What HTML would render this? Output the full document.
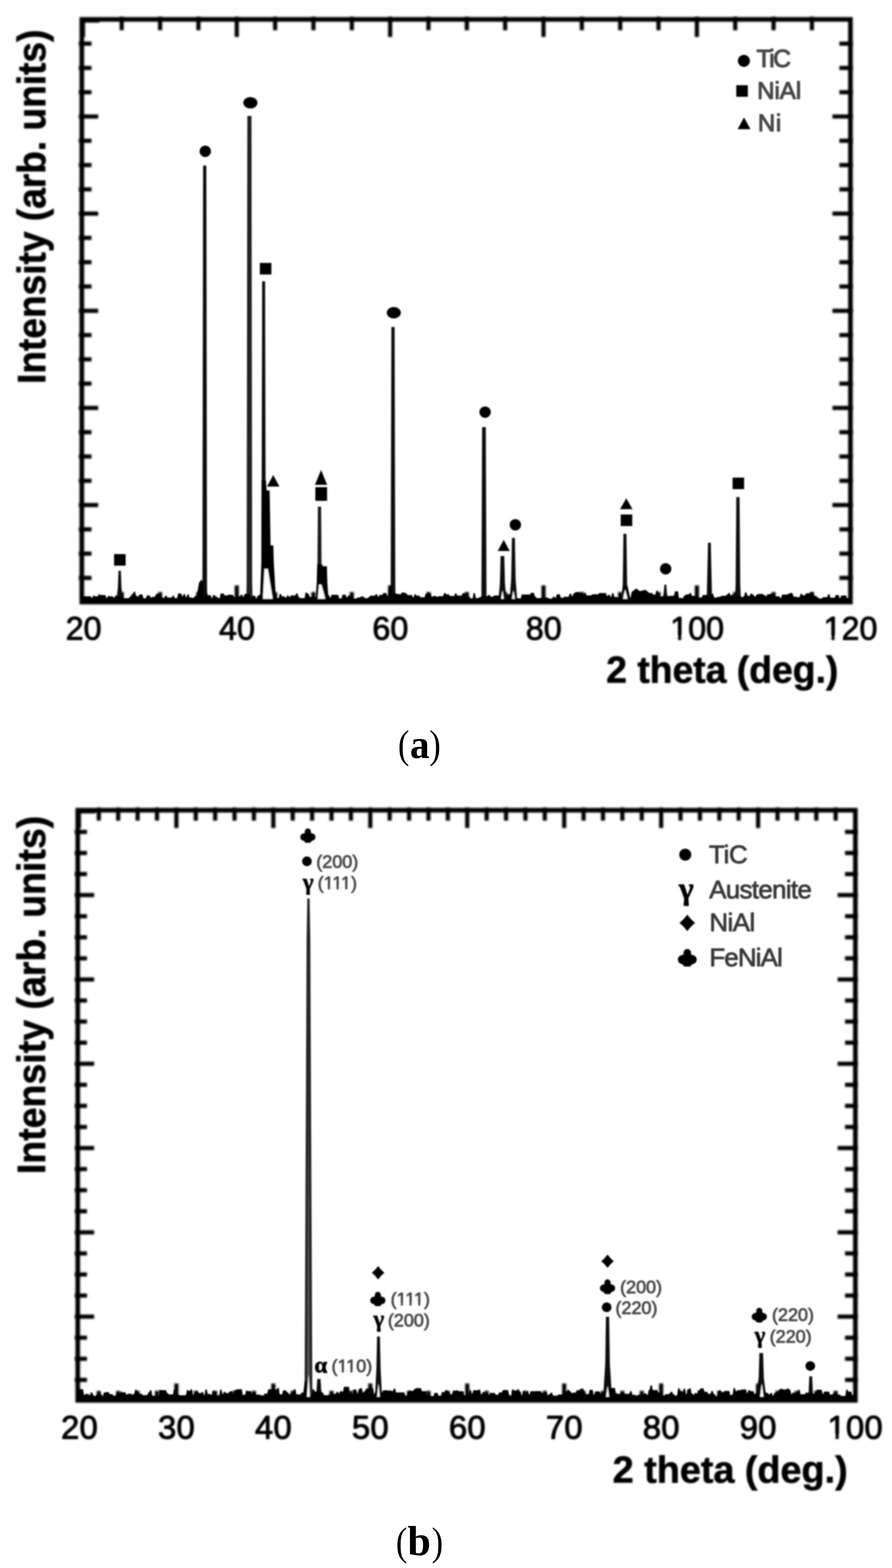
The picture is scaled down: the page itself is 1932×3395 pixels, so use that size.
<!DOCTYPE html>
<html lang="en"><head><meta charset="utf-8">
<style>html,body{margin:0;padding:0;background:#fff}body{width:1932px;height:3395px;overflow:hidden}svg{display:block}</style>
</head><body>
<svg width="1932" height="3395" viewBox="0 0 1932 3395">
<defs><filter id="bl" x="-2%" y="-2%" width="104%" height="104%"><feGaussianBlur stdDeviation="1.7"/></filter><filter id="bx" x="-2%" y="-2%" width="104%" height="104%"><feGaussianBlur stdDeviation="2.1"/></filter><filter id="b2" x="-20%" y="-30%" width="140%" height="160%"><feGaussianBlur stdDeviation="1.1"/></filter></defs>
<rect width="1932" height="3395" fill="#fff"/>
<g filter="url(#bx)">
<rect x="177.2" y="42.0" width="1664.8" height="1261.5" fill="none" stroke="#000" stroke-width="10.0"/>
<line x1="177.2" y1="43.5" x2="215.2" y2="43.5" stroke="#000" stroke-width="11.0" stroke-linecap="butt"/>
<line x1="178.7" y1="42.0" x2="178.7" y2="80.0" stroke="#000" stroke-width="11.0" stroke-linecap="butt"/>
<line x1="263.6" y1="36.0" x2="263.6" y2="65.5" stroke="#000" stroke-width="9.0" stroke-linecap="butt"/>
<line x1="263.6" y1="1303.5" x2="263.6" y2="1282.0" stroke="#000" stroke-width="9.0" stroke-linecap="butt"/>
<line x1="346.7" y1="36.0" x2="346.7" y2="65.5" stroke="#000" stroke-width="9.0" stroke-linecap="butt"/>
<line x1="346.7" y1="1303.5" x2="346.7" y2="1282.0" stroke="#000" stroke-width="9.0" stroke-linecap="butt"/>
<line x1="429.8" y1="36.0" x2="429.8" y2="65.5" stroke="#000" stroke-width="9.0" stroke-linecap="butt"/>
<line x1="429.8" y1="1303.5" x2="429.8" y2="1282.0" stroke="#000" stroke-width="9.0" stroke-linecap="butt"/>
<line x1="512.8" y1="36.0" x2="512.8" y2="80.0" stroke="#000" stroke-width="9.0" stroke-linecap="butt"/>
<line x1="512.8" y1="1303.5" x2="512.8" y2="1267.5" stroke="#000" stroke-width="9.0" stroke-linecap="butt"/>
<line x1="595.9" y1="36.0" x2="595.9" y2="65.5" stroke="#000" stroke-width="9.0" stroke-linecap="butt"/>
<line x1="595.9" y1="1303.5" x2="595.9" y2="1282.0" stroke="#000" stroke-width="9.0" stroke-linecap="butt"/>
<line x1="678.9" y1="36.0" x2="678.9" y2="65.5" stroke="#000" stroke-width="9.0" stroke-linecap="butt"/>
<line x1="678.9" y1="1303.5" x2="678.9" y2="1282.0" stroke="#000" stroke-width="9.0" stroke-linecap="butt"/>
<line x1="762.0" y1="36.0" x2="762.0" y2="65.5" stroke="#000" stroke-width="9.0" stroke-linecap="butt"/>
<line x1="762.0" y1="1303.5" x2="762.0" y2="1282.0" stroke="#000" stroke-width="9.0" stroke-linecap="butt"/>
<line x1="845.0" y1="36.0" x2="845.0" y2="80.0" stroke="#000" stroke-width="9.0" stroke-linecap="butt"/>
<line x1="845.0" y1="1303.5" x2="845.0" y2="1267.5" stroke="#000" stroke-width="9.0" stroke-linecap="butt"/>
<line x1="928.0" y1="36.0" x2="928.0" y2="65.5" stroke="#000" stroke-width="9.0" stroke-linecap="butt"/>
<line x1="928.0" y1="1303.5" x2="928.0" y2="1282.0" stroke="#000" stroke-width="9.0" stroke-linecap="butt"/>
<line x1="1011.1" y1="36.0" x2="1011.1" y2="65.5" stroke="#000" stroke-width="9.0" stroke-linecap="butt"/>
<line x1="1011.1" y1="1303.5" x2="1011.1" y2="1282.0" stroke="#000" stroke-width="9.0" stroke-linecap="butt"/>
<line x1="1094.1" y1="36.0" x2="1094.1" y2="65.5" stroke="#000" stroke-width="9.0" stroke-linecap="butt"/>
<line x1="1094.1" y1="1303.5" x2="1094.1" y2="1282.0" stroke="#000" stroke-width="9.0" stroke-linecap="butt"/>
<line x1="1177.2" y1="36.0" x2="1177.2" y2="80.0" stroke="#000" stroke-width="9.0" stroke-linecap="butt"/>
<line x1="1177.2" y1="1303.5" x2="1177.2" y2="1267.5" stroke="#000" stroke-width="9.0" stroke-linecap="butt"/>
<line x1="1260.2" y1="36.0" x2="1260.2" y2="65.5" stroke="#000" stroke-width="9.0" stroke-linecap="butt"/>
<line x1="1260.2" y1="1303.5" x2="1260.2" y2="1282.0" stroke="#000" stroke-width="9.0" stroke-linecap="butt"/>
<line x1="1343.3" y1="36.0" x2="1343.3" y2="65.5" stroke="#000" stroke-width="9.0" stroke-linecap="butt"/>
<line x1="1343.3" y1="1303.5" x2="1343.3" y2="1282.0" stroke="#000" stroke-width="9.0" stroke-linecap="butt"/>
<line x1="1426.3" y1="36.0" x2="1426.3" y2="65.5" stroke="#000" stroke-width="9.0" stroke-linecap="butt"/>
<line x1="1426.3" y1="1303.5" x2="1426.3" y2="1282.0" stroke="#000" stroke-width="9.0" stroke-linecap="butt"/>
<line x1="1509.4" y1="36.0" x2="1509.4" y2="80.0" stroke="#000" stroke-width="9.0" stroke-linecap="butt"/>
<line x1="1509.4" y1="1303.5" x2="1509.4" y2="1267.5" stroke="#000" stroke-width="9.0" stroke-linecap="butt"/>
<line x1="1592.4" y1="36.0" x2="1592.4" y2="65.5" stroke="#000" stroke-width="9.0" stroke-linecap="butt"/>
<line x1="1592.4" y1="1303.5" x2="1592.4" y2="1282.0" stroke="#000" stroke-width="9.0" stroke-linecap="butt"/>
<line x1="1675.5" y1="36.0" x2="1675.5" y2="65.5" stroke="#000" stroke-width="9.0" stroke-linecap="butt"/>
<line x1="1675.5" y1="1303.5" x2="1675.5" y2="1282.0" stroke="#000" stroke-width="9.0" stroke-linecap="butt"/>
<line x1="1758.5" y1="36.0" x2="1758.5" y2="65.5" stroke="#000" stroke-width="9.0" stroke-linecap="butt"/>
<line x1="1758.5" y1="1303.5" x2="1758.5" y2="1282.0" stroke="#000" stroke-width="9.0" stroke-linecap="butt"/>
<line x1="170.7" y1="94.5" x2="198.2" y2="94.5" stroke="#000" stroke-width="9.0" stroke-linecap="butt"/>
<line x1="1847.5" y1="94.5" x2="1818.0" y2="94.5" stroke="#000" stroke-width="9.0" stroke-linecap="butt"/>
<line x1="170.7" y1="147.1" x2="198.2" y2="147.1" stroke="#000" stroke-width="9.0" stroke-linecap="butt"/>
<line x1="1847.5" y1="147.1" x2="1818.0" y2="147.1" stroke="#000" stroke-width="9.0" stroke-linecap="butt"/>
<line x1="170.7" y1="199.7" x2="198.2" y2="199.7" stroke="#000" stroke-width="9.0" stroke-linecap="butt"/>
<line x1="1847.5" y1="199.7" x2="1818.0" y2="199.7" stroke="#000" stroke-width="9.0" stroke-linecap="butt"/>
<line x1="170.7" y1="252.2" x2="212.7" y2="252.2" stroke="#000" stroke-width="9.0" stroke-linecap="butt"/>
<line x1="1847.5" y1="252.2" x2="1803.0" y2="252.2" stroke="#000" stroke-width="9.0" stroke-linecap="butt"/>
<line x1="170.7" y1="304.8" x2="198.2" y2="304.8" stroke="#000" stroke-width="9.0" stroke-linecap="butt"/>
<line x1="1847.5" y1="304.8" x2="1818.0" y2="304.8" stroke="#000" stroke-width="9.0" stroke-linecap="butt"/>
<line x1="170.7" y1="357.4" x2="198.2" y2="357.4" stroke="#000" stroke-width="9.0" stroke-linecap="butt"/>
<line x1="1847.5" y1="357.4" x2="1818.0" y2="357.4" stroke="#000" stroke-width="9.0" stroke-linecap="butt"/>
<line x1="170.7" y1="410.0" x2="198.2" y2="410.0" stroke="#000" stroke-width="9.0" stroke-linecap="butt"/>
<line x1="1847.5" y1="410.0" x2="1818.0" y2="410.0" stroke="#000" stroke-width="9.0" stroke-linecap="butt"/>
<line x1="170.7" y1="462.6" x2="212.7" y2="462.6" stroke="#000" stroke-width="9.0" stroke-linecap="butt"/>
<line x1="1847.5" y1="462.6" x2="1803.0" y2="462.6" stroke="#000" stroke-width="9.0" stroke-linecap="butt"/>
<line x1="170.7" y1="515.1" x2="198.2" y2="515.1" stroke="#000" stroke-width="9.0" stroke-linecap="butt"/>
<line x1="1847.5" y1="515.1" x2="1818.0" y2="515.1" stroke="#000" stroke-width="9.0" stroke-linecap="butt"/>
<line x1="170.7" y1="567.7" x2="198.2" y2="567.7" stroke="#000" stroke-width="9.0" stroke-linecap="butt"/>
<line x1="1847.5" y1="567.7" x2="1818.0" y2="567.7" stroke="#000" stroke-width="9.0" stroke-linecap="butt"/>
<line x1="170.7" y1="620.3" x2="198.2" y2="620.3" stroke="#000" stroke-width="9.0" stroke-linecap="butt"/>
<line x1="1847.5" y1="620.3" x2="1818.0" y2="620.3" stroke="#000" stroke-width="9.0" stroke-linecap="butt"/>
<line x1="170.7" y1="672.9" x2="212.7" y2="672.9" stroke="#000" stroke-width="9.0" stroke-linecap="butt"/>
<line x1="1847.5" y1="672.9" x2="1803.0" y2="672.9" stroke="#000" stroke-width="9.0" stroke-linecap="butt"/>
<line x1="170.7" y1="725.5" x2="198.2" y2="725.5" stroke="#000" stroke-width="9.0" stroke-linecap="butt"/>
<line x1="1847.5" y1="725.5" x2="1818.0" y2="725.5" stroke="#000" stroke-width="9.0" stroke-linecap="butt"/>
<line x1="170.7" y1="778.1" x2="198.2" y2="778.1" stroke="#000" stroke-width="9.0" stroke-linecap="butt"/>
<line x1="1847.5" y1="778.1" x2="1818.0" y2="778.1" stroke="#000" stroke-width="9.0" stroke-linecap="butt"/>
<line x1="170.7" y1="830.6" x2="198.2" y2="830.6" stroke="#000" stroke-width="9.0" stroke-linecap="butt"/>
<line x1="1847.5" y1="830.6" x2="1818.0" y2="830.6" stroke="#000" stroke-width="9.0" stroke-linecap="butt"/>
<line x1="170.7" y1="883.2" x2="212.7" y2="883.2" stroke="#000" stroke-width="9.0" stroke-linecap="butt"/>
<line x1="1847.5" y1="883.2" x2="1803.0" y2="883.2" stroke="#000" stroke-width="9.0" stroke-linecap="butt"/>
<line x1="170.7" y1="935.8" x2="198.2" y2="935.8" stroke="#000" stroke-width="9.0" stroke-linecap="butt"/>
<line x1="1847.5" y1="935.8" x2="1818.0" y2="935.8" stroke="#000" stroke-width="9.0" stroke-linecap="butt"/>
<line x1="170.7" y1="988.4" x2="198.2" y2="988.4" stroke="#000" stroke-width="9.0" stroke-linecap="butt"/>
<line x1="1847.5" y1="988.4" x2="1818.0" y2="988.4" stroke="#000" stroke-width="9.0" stroke-linecap="butt"/>
<line x1="170.7" y1="1041.0" x2="198.2" y2="1041.0" stroke="#000" stroke-width="9.0" stroke-linecap="butt"/>
<line x1="1847.5" y1="1041.0" x2="1818.0" y2="1041.0" stroke="#000" stroke-width="9.0" stroke-linecap="butt"/>
<line x1="170.7" y1="1093.6" x2="212.7" y2="1093.6" stroke="#000" stroke-width="9.0" stroke-linecap="butt"/>
<line x1="1847.5" y1="1093.6" x2="1803.0" y2="1093.6" stroke="#000" stroke-width="9.0" stroke-linecap="butt"/>
<line x1="170.7" y1="1146.2" x2="198.2" y2="1146.2" stroke="#000" stroke-width="9.0" stroke-linecap="butt"/>
<line x1="1847.5" y1="1146.2" x2="1818.0" y2="1146.2" stroke="#000" stroke-width="9.0" stroke-linecap="butt"/>
<line x1="170.7" y1="1198.7" x2="198.2" y2="1198.7" stroke="#000" stroke-width="9.0" stroke-linecap="butt"/>
<line x1="1847.5" y1="1198.7" x2="1818.0" y2="1198.7" stroke="#000" stroke-width="9.0" stroke-linecap="butt"/>
<line x1="170.7" y1="1251.3" x2="198.2" y2="1251.3" stroke="#000" stroke-width="9.0" stroke-linecap="butt"/>
<line x1="1847.5" y1="1251.3" x2="1818.0" y2="1251.3" stroke="#000" stroke-width="9.0" stroke-linecap="butt"/>
</g>
<g filter="url(#bl)">
<polygon points="256.7,1235.7 261.7,1235.7 263.2,1273.5 266.7,1303.5 251.7,1303.5 255.2,1273.5" fill="#111"/>
<polygon points="439.9,358.5 446.9,358.5 448.4,1273.5 449.4,1303.5 437.4,1303.5 438.4,1273.5" fill="#111"/>
<polygon points="424.0,1303.5 431.0,1262.0 436.0,1255.0 441.0,1262.0 441.0,1303.5" fill="#000"/>
<polygon points="535.7,251.0 544.7,251.0 546.2,1263.5 547.2,1303.5 533.2,1303.5 534.2,1263.5" fill="#222"/>
<polygon points="567.8,609.0 574.2,609.0 575.8,1293.5 575.8,1303.5 566.2,1303.5 566.2,1293.5" fill="#111"/>
<polygon points="566.5,1040.0 576.0,1040.0 577.5,1062.0 584.0,1062.0 586.0,1181.0 592.0,1181.0 593.0,1218.0 598.0,1303.5 563.0,1303.5 566.0,1218.0" fill="#000"/>
<polygon points="688.5,1097.0 695.5,1097.0 697.0,1293.5 698.0,1303.5 686.0,1303.5 687.0,1293.5" fill="#1c1c1c"/>
<polygon points="687.0,1222.0 698.0,1222.0 699.0,1226.0 708.0,1226.0 709.0,1262.0 712.0,1303.5 683.0,1303.5 686.0,1262.0" fill="#000"/>
<polygon points="847.7,708.0 854.7,708.0 856.2,1273.5 857.2,1303.5 845.2,1303.5 846.2,1273.5" fill="#111"/>
<polygon points="840.0,1303.5 845.0,1268.0 850.0,1268.0 850.0,1303.5" fill="#000"/>
<polygon points="1044.2,924.7 1052.2,924.7 1053.7,1283.5 1054.2,1303.5 1042.2,1303.5 1042.7,1283.5" fill="#111"/>
<polygon points="1084.2,1204.0 1092.2,1204.0 1093.7,1263.5 1097.2,1303.5 1079.2,1303.5 1082.7,1263.5" fill="#111"/>
<polygon points="1108.8,1164.8 1115.2,1164.8 1116.8,1253.5 1120.5,1303.5 1103.5,1303.5 1107.2,1253.5" fill="#111"/>
<polygon points="1350.3,1155.8 1356.8,1155.8 1358.3,1263.5 1359.1,1303.5 1348.1,1303.5 1348.8,1263.5" fill="#111"/>
<polygon points="1344.0,1303.5 1349.0,1268.0 1359.0,1268.0 1367.0,1303.5" fill="#000"/>
<polygon points="1364.0,1303.5 1368.0,1282.0 1378.0,1274.0 1386.0,1280.0 1398.0,1277.0 1410.0,1287.0 1424.0,1303.5" fill="#000"/>
<polygon points="1439.0,1265.8 1443.0,1265.8 1444.5,1283.5 1448.0,1303.5 1434.0,1303.5 1437.5,1283.5" fill="#111"/>
<polygon points="1533.5,1175.0 1539.5,1175.0 1541.0,1243.5 1542.5,1303.5 1530.5,1303.5 1532.0,1243.5" fill="#111"/>
<polygon points="1594.8,1076.2 1601.8,1076.2 1603.3,1263.5 1604.8,1303.5 1591.8,1303.5 1593.3,1263.5" fill="#111"/>
<path d="M177.2,1303.5 L178.2,1291.5 L188.2,1291.5 L190.2,1291.7 L196.2,1291.7 L198.2,1294.8 L200.2,1294.8 L202.2,1290.2 L204.2,1290.2 L206.2,1291.7 L212.2,1291.7 L214.2,1287.1 L216.2,1287.1 L218.2,1289.1 L220.2,1289.1 L222.2,1288.8 L224.2,1288.8 L226.2,1289.1 L228.2,1289.1 L230.2,1295.5 L232.2,1295.5 L234.2,1290.8 L236.2,1290.8 L238.2,1291.8 L244.2,1291.8 L246.2,1294.4 L248.2,1294.4 L250.2,1289.7 L252.2,1289.7 L254.2,1292.0 L264.2,1292.0 L266.2,1295.9 L276.2,1295.9 L278.2,1295.3 L280.2,1295.3 L282.2,1291.2 L284.2,1291.2 L286.2,1286.5 L288.2,1286.5 L290.2,1281.5 L292.2,1281.5 L294.2,1290.4 L296.2,1290.4 L298.2,1292.0 L300.2,1292.0 L302.2,1287.6 L304.2,1287.6 L306.2,1287.7 L308.2,1287.7 L310.2,1295.6 L312.2,1295.6 L314.2,1296.8 L316.2,1296.8 L318.2,1289.9 L324.2,1289.9 L326.2,1294.5 L328.2,1294.5 L330.2,1292.8 L332.2,1292.8 L334.2,1292.5 L336.2,1292.5 L338.2,1286.5 L344.2,1286.5 L346.2,1292.6 L348.2,1292.6 L350.2,1295.0 L356.2,1295.0 L358.2,1290.1 L360.2,1290.1 L362.2,1294.3 L372.2,1294.3 L374.2,1290.4 L376.2,1290.4 L378.2,1295.6 L384.2,1295.6 L386.2,1285.5 L392.2,1285.5 L394.2,1291.6 L396.2,1291.6 L398.2,1286.8 L400.2,1286.8 L402.2,1293.9 L404.2,1293.9 L406.2,1287.5 L408.2,1287.5 L410.2,1294.3 L416.2,1294.3 L418.2,1295.3 L420.2,1295.3 L422.2,1290.7 L424.2,1290.7 L426.2,1295.4 L428.2,1295.4 L430.2,1295.1 L432.2,1295.1 L434.2,1292.9 L436.2,1292.9 L438.2,1294.0 L444.2,1294.0 L446.2,1285.1 L448.2,1285.1 L450.2,1289.2 L456.2,1289.2 L458.2,1295.4 L460.2,1295.4 L462.2,1288.7 L464.2,1288.7 L466.2,1291.4 L468.2,1291.4 L470.2,1293.8 L472.2,1293.8 L474.2,1296.2 L476.2,1296.2 L478.2,1285.5 L484.2,1285.5 L486.2,1289.8 L492.2,1289.8 L494.2,1288.2 L500.2,1288.2 L502.2,1288.4 L504.2,1288.4 L506.2,1292.0 L508.2,1292.0 L510.2,1295.4 L512.2,1295.4 L514.2,1291.4 L520.2,1291.4 L522.2,1288.1 L524.2,1288.1 L526.2,1292.4 L528.2,1292.4 L530.2,1286.4 L540.2,1286.4 L542.2,1295.1 L544.2,1295.1 L546.2,1290.4 L552.2,1290.4 L554.2,1296.0 L556.2,1296.0 L558.2,1290.3 L560.2,1290.3 L562.2,1288.0 L568.2,1288.0 L570.2,1288.0 L572.2,1288.0 L574.2,1286.0 L584.2,1286.0 L586.2,1290.0 L588.2,1290.0 L590.2,1291.2 L596.2,1291.2 L598.2,1295.5 L604.2,1295.5 L606.2,1286.3 L608.2,1286.3 L610.2,1291.8 L616.2,1291.8 L618.2,1294.7 L620.2,1294.7 L622.2,1289.8 L624.2,1289.8 L626.2,1293.0 L628.2,1293.0 L630.2,1289.8 L640.2,1289.8 L642.2,1285.2 L644.2,1285.2 L646.2,1293.2 L648.2,1293.2 L650.2,1295.7 L660.2,1295.7 L662.2,1283.4 L664.2,1283.4 L666.2,1285.9 L668.2,1285.9 L670.2,1292.8 L672.2,1292.8 L674.2,1292.9 L680.2,1292.9 L682.2,1293.8 L688.2,1293.8 L690.2,1292.3 L692.2,1292.3 L694.2,1294.0 L700.2,1294.0 L702.2,1289.0 L704.2,1289.0 L706.2,1288.8 L712.2,1288.8 L714.2,1294.8 L716.2,1294.8 L718.2,1288.3 L728.2,1288.3 L730.2,1288.5 L732.2,1288.5 L734.2,1296.2 L740.2,1296.2 L742.2,1288.1 L748.2,1288.1 L750.2,1294.0 L752.2,1294.0 L754.2,1290.0 L760.2,1290.0 L762.2,1296.9 L772.2,1296.9 L774.2,1294.2 L780.2,1294.2 L782.2,1291.8 L784.2,1291.8 L786.2,1292.6 L788.2,1292.6 L790.2,1296.0 L796.2,1296.0 L798.2,1293.5 L800.2,1293.5 L802.2,1290.0 L804.2,1290.0 L806.2,1290.3 L812.2,1290.3 L814.2,1287.0 L816.2,1287.0 L818.2,1292.4 L820.2,1292.4 L822.2,1288.5 L828.2,1288.5 L830.2,1284.8 L832.2,1284.8 L834.2,1284.4 L836.2,1284.4 L838.2,1289.4 L840.2,1289.4 L842.2,1293.6 L844.2,1293.6 L846.2,1293.5 L848.2,1293.5 L850.2,1293.6 L852.2,1293.6 L854.2,1284.8 L856.2,1284.8 L858.2,1286.5 L864.2,1286.5 L866.2,1287.5 L868.2,1287.5 L870.2,1283.5 L876.2,1283.5 L878.2,1285.1 L880.2,1285.1 L882.2,1289.0 L892.2,1289.0 L894.2,1294.0 L896.2,1294.0 L898.2,1287.3 L900.2,1287.3 L902.2,1290.1 L908.2,1290.1 L910.2,1293.8 L920.2,1293.8 L922.2,1286.7 L924.2,1286.7 L926.2,1285.5 L932.2,1285.5 L934.2,1292.7 L936.2,1292.7 L938.2,1291.0 L944.2,1291.0 L946.2,1292.7 L948.2,1292.7 L950.2,1291.3 L960.2,1291.3 L962.2,1284.4 L964.2,1284.4 L966.2,1287.3 L972.2,1287.3 L974.2,1290.9 L984.2,1290.9 L986.2,1285.3 L988.2,1285.3 L990.2,1290.1 L1000.2,1290.1 L1002.2,1285.0 L1008.2,1285.0 L1010.2,1292.1 L1016.2,1292.1 L1018.2,1296.3 L1024.2,1296.3 L1026.2,1284.5 L1028.2,1284.5 L1030.2,1295.6 L1036.2,1295.6 L1038.2,1293.8 L1040.2,1293.8 L1042.2,1291.7 L1052.2,1291.7 L1054.2,1291.2 L1056.2,1291.2 L1058.2,1288.5 L1060.2,1288.5 L1062.2,1292.2 L1068.2,1292.2 L1070.2,1289.9 L1080.2,1289.9 L1082.2,1289.2 L1088.2,1289.2 L1090.2,1294.1 L1096.2,1294.1 L1098.2,1286.9 L1104.2,1286.9 L1106.2,1288.7 L1108.2,1288.7 L1110.2,1292.9 L1112.2,1292.9 L1114.2,1294.8 L1116.2,1294.8 L1118.2,1296.0 L1124.2,1296.0 L1126.2,1296.6 L1128.2,1296.6 L1130.2,1287.8 L1140.2,1287.8 L1142.2,1287.8 L1148.2,1287.8 L1150.2,1284.1 L1156.2,1284.1 L1158.2,1292.3 L1160.2,1292.3 L1162.2,1295.7 L1172.2,1295.7 L1174.2,1294.0 L1184.2,1294.0 L1186.2,1295.3 L1188.2,1295.3 L1190.2,1296.9 L1196.2,1296.9 L1198.2,1292.2 L1200.2,1292.2 L1202.2,1294.9 L1204.2,1294.9 L1206.2,1287.3 L1212.2,1287.3 L1214.2,1294.8 L1220.2,1294.8 L1222.2,1292.4 L1224.2,1292.4 L1226.2,1292.8 L1228.2,1292.8 L1230.2,1292.4 L1232.2,1292.4 L1234.2,1285.7 L1236.2,1285.7 L1238.2,1291.5 L1240.2,1291.5 L1242.2,1285.5 L1244.2,1285.5 L1246.2,1282.4 L1256.2,1282.4 L1258.2,1286.3 L1264.2,1286.3 L1266.2,1284.2 L1268.2,1284.2 L1270.2,1289.7 L1280.2,1289.7 L1282.2,1287.4 L1284.2,1287.4 L1286.2,1287.2 L1296.2,1287.2 L1298.2,1284.4 L1300.2,1284.4 L1302.2,1284.7 L1312.2,1284.7 L1314.2,1290.7 L1316.2,1290.7 L1318.2,1288.2 L1320.2,1288.2 L1322.2,1292.9 L1324.2,1292.9 L1326.2,1284.7 L1328.2,1284.7 L1330.2,1293.0 L1336.2,1293.0 L1338.2,1294.0 L1340.2,1294.0 L1342.2,1290.9 L1344.2,1290.9 L1346.2,1290.9 L1348.2,1290.9 L1350.2,1288.5 L1356.2,1288.5 L1358.2,1295.6 L1364.2,1295.6 L1366.2,1295.1 L1372.2,1295.1 L1374.2,1296.7 L1376.2,1296.7 L1378.2,1297.3 L1380.2,1297.3 L1382.2,1286.9 L1388.2,1286.9 L1390.2,1291.4 L1400.2,1291.4 L1402.2,1284.3 L1412.2,1284.3 L1414.2,1287.9 L1420.2,1287.9 L1422.2,1279.4 L1424.2,1279.4 L1426.2,1291.8 L1436.2,1291.8 L1438.2,1291.4 L1440.2,1291.4 L1442.2,1292.1 L1444.2,1292.1 L1446.2,1291.0 L1448.2,1291.0 L1450.2,1290.8 L1452.2,1290.8 L1454.2,1290.3 L1460.2,1290.3 L1462.2,1280.9 L1468.2,1280.9 L1470.2,1295.3 L1480.2,1295.3 L1482.2,1289.6 L1484.2,1289.6 L1486.2,1287.6 L1492.2,1287.6 L1494.2,1284.3 L1496.2,1284.3 L1498.2,1290.7 L1508.2,1290.7 L1510.2,1294.1 L1520.2,1294.1 L1522.2,1288.8 L1532.2,1288.8 L1534.2,1293.7 L1536.2,1293.7 L1538.2,1290.1 L1540.2,1290.1 L1542.2,1286.1 L1544.2,1286.1 L1546.2,1294.3 L1552.2,1294.3 L1554.2,1292.8 L1560.2,1292.8 L1562.2,1290.5 L1572.2,1290.5 L1574.2,1287.8 L1576.2,1287.8 L1578.2,1284.3 L1580.2,1284.3 L1582.2,1290.0 L1584.2,1290.0 L1586.2,1287.2 L1588.2,1287.2 L1590.2,1293.0 L1596.2,1293.0 L1598.2,1290.7 L1604.2,1290.7 L1606.2,1293.7 L1608.2,1293.7 L1610.2,1291.7 L1612.2,1291.7 L1614.2,1282.8 L1616.2,1282.8 L1618.2,1289.8 L1620.2,1289.8 L1622.2,1291.0 L1624.2,1291.0 L1626.2,1285.5 L1628.2,1285.5 L1630.2,1288.3 L1632.2,1288.3 L1634.2,1292.4 L1636.2,1292.4 L1638.2,1288.2 L1640.2,1288.2 L1642.2,1286.5 L1652.2,1286.5 L1654.2,1288.7 L1656.2,1288.7 L1658.2,1291.4 L1660.2,1291.4 L1662.2,1287.1 L1668.2,1287.1 L1670.2,1285.8 L1672.2,1285.8 L1674.2,1289.5 L1676.2,1289.5 L1678.2,1291.7 L1680.2,1291.7 L1682.2,1291.8 L1688.2,1291.8 L1690.2,1295.8 L1692.2,1295.8 L1694.2,1287.9 L1704.2,1287.9 L1706.2,1286.8 L1708.2,1286.8 L1710.2,1284.7 L1716.2,1284.7 L1718.2,1292.2 L1724.2,1292.2 L1726.2,1293.5 L1728.2,1293.5 L1730.2,1293.4 L1732.2,1293.4 L1734.2,1286.1 L1736.2,1286.1 L1738.2,1289.3 L1744.2,1289.3 L1746.2,1285.1 L1756.2,1285.1 L1758.2,1283.1 L1760.2,1283.1 L1762.2,1290.8 L1768.2,1290.8 L1770.2,1294.1 L1772.2,1294.1 L1774.2,1296.7 L1780.2,1296.7 L1782.2,1293.7 L1788.2,1293.7 L1790.2,1293.3 L1792.2,1293.3 L1794.2,1287.1 L1796.2,1287.1 L1798.2,1294.8 L1808.2,1294.8 L1810.2,1288.9 L1816.2,1288.9 L1818.2,1295.7 L1820.2,1295.7 L1822.2,1290.1 L1824.2,1290.1 L1826.2,1289.9 L1832.2,1289.9 L1834.2,1295.4 L1840.2,1295.4 L1842.2,1296.4 L1841.0,1296.4 L1842.0,1303.5Z" fill="#000" stroke="#000" stroke-width="1" stroke-linejoin="round"/>
<polygon points="580.0,1232.0 590.5,1296.5 569.5,1296.5 573.0,1232.0" fill="#fff"/>
<polygon points="696.0,1266.0 704.5,1296.5 688.5,1296.5 691.0,1266.0" fill="#fff"/>
<polygon points="1088.2,1278.0 1091.0,1296.5 1085.5,1296.5" fill="#fff"/>
<polygon points="1112.0,1278.0 1115.0,1296.5 1109.0,1296.5" fill="#fff"/>
<polygon points="1354.0,1276.0 1359.0,1296.5 1349.5,1296.5" fill="#fff"/>
<ellipse cx="444.6" cy="327.6" rx="12.3" ry="12.3" fill="#000"/>
<ellipse cx="542.3" cy="222.5" rx="15.3" ry="12.3" fill="#000"/>
<ellipse cx="852.9" cy="677.1" rx="15.3" ry="12.3" fill="#000"/>
<ellipse cx="1050.7" cy="892.2" rx="12.3" ry="12.3" fill="#000"/>
<ellipse cx="1116.2" cy="1136.2" rx="12.3" ry="12.3" fill="#000"/>
<ellipse cx="1441.8" cy="1231.6" rx="12.3" ry="12.3" fill="#000"/>
<rect x="247.1" y="1199.7" width="25.0" height="25.0" fill="#000"/>
<rect x="562.8" y="569.3" width="25.0" height="25.0" fill="#000"/>
<rect x="683.0" y="1054.8" width="25.4" height="29.6" fill="#000"/>
<rect x="1344.4" y="1114.0" width="25.0" height="25.0" fill="#000"/>
<rect x="1586.7" y="1034.1" width="25.0" height="25.0" fill="#000"/>
<polygon points="591.8,1028.5 605.3,1053.6 578.3,1053.6" fill="#000"/>
<polygon points="695.4,1017.5 708.6,1049.8 682.1,1049.8" fill="#000"/>
<polygon points="1091.0,1169.0 1104.0,1193.0 1078.0,1193.0" fill="#000"/>
<polygon points="1356.5,1079.0 1370.0,1102.5 1343.0,1102.5" fill="#000"/>
<ellipse cx="1611.2" cy="131.8" rx="13.0" ry="13.0" fill="#000"/>
<rect x="1594.7" y="184.5" width="25.0" height="25.0" fill="#000"/>
<polygon points="1611.5,254.2 1625.5,279.7 1597.5,279.7" fill="#000"/>
<text x="1638.5" y="144.9" font-family='"Liberation Sans", sans-serif' font-size="53" font-weight="normal" text-anchor="start" fill="#484848" letter-spacing="-3" stroke="#484848" stroke-width="2.2" stroke-linejoin="round">TiC</text>
<text x="1640.0" y="213.7" font-family='"Liberation Sans", sans-serif' font-size="52" font-weight="normal" text-anchor="start" fill="#484848" stroke="#484848" stroke-width="2.2" stroke-linejoin="round">NiAl</text>
<text x="1641.5" y="284.2" font-family='"Liberation Sans", sans-serif' font-size="52" font-weight="normal" text-anchor="start" fill="#484848" letter-spacing="1.5" stroke="#484848" stroke-width="2.2" stroke-linejoin="round">Ni</text>
<g filter="url(#b2)">
<text x="181.1" y="1384.5" font-family='"Liberation Sans", sans-serif' font-size="70" font-weight="normal" text-anchor="middle" fill="#000" stroke="#000" stroke-width="1.8" stroke-linejoin="round">20</text>
</g>
<g filter="url(#b2)">
<text x="513.3" y="1384.5" font-family='"Liberation Sans", sans-serif' font-size="70" font-weight="normal" text-anchor="middle" fill="#000" stroke="#000" stroke-width="1.8" stroke-linejoin="round">40</text>
</g>
<g filter="url(#b2)">
<text x="845.5" y="1384.5" font-family='"Liberation Sans", sans-serif' font-size="70" font-weight="normal" text-anchor="middle" fill="#000" stroke="#000" stroke-width="1.8" stroke-linejoin="round">60</text>
</g>
<g filter="url(#b2)">
<text x="1177.7" y="1384.5" font-family='"Liberation Sans", sans-serif' font-size="70" font-weight="normal" text-anchor="middle" fill="#000" stroke="#000" stroke-width="1.8" stroke-linejoin="round">80</text>
</g>
<g filter="url(#b2)">
<text x="1509.9" y="1384.5" font-family='"Liberation Sans", sans-serif' font-size="70" font-weight="normal" text-anchor="middle" fill="#000" stroke="#000" stroke-width="1.8" stroke-linejoin="round">100</text>
<rect x="1453.2" y="1377.9" width="14.4" height="9.2" fill="#fff"/>
<rect x="1476.7" y="1377.9" width="13.3" height="9.2" fill="#fff"/>
</g>
<g filter="url(#b2)">
<text x="1842.1" y="1384.5" font-family='"Liberation Sans", sans-serif' font-size="70" font-weight="normal" text-anchor="middle" fill="#000" stroke="#000" stroke-width="1.8" stroke-linejoin="round">120</text>
<rect x="1785.4" y="1377.9" width="14.4" height="9.2" fill="#fff"/>
<rect x="1808.9" y="1377.9" width="13.3" height="9.2" fill="#fff"/>
</g>
<text x="1313.0" y="1478.3" font-family='"Liberation Sans", sans-serif' font-size="80.8" font-weight="bold" text-anchor="start" fill="#000" filter="url(#b2)" stroke="#000" stroke-width="1.2" stroke-linejoin="round">2 theta (deg.)</text>
<text transform="translate(98.2,831.3) rotate(-90) scale(1,1.055)" font-family='"Liberation Sans", sans-serif' font-size="80.3" font-weight="bold" fill="#000" stroke="#000" stroke-width="1.2" stroke-linejoin="round" filter="url(#b2)">Intensity (arb. units)</text>
</g>
<g><text transform="translate(874.4,1640.8) scale(0.82,0.953)" font-family='"Liberation Serif", serif' font-size="90" font-weight="normal" text-anchor="middle" fill="#000">(</text><text transform="translate(909.2,1640.8) scale(0.94,0.98)" font-family='"Liberation Serif", serif' font-size="90" font-weight="bold" text-anchor="middle" fill="#000">a</text><text transform="translate(942.4,1640.8) scale(0.82,0.953)" font-family='"Liberation Serif", serif' font-size="90" font-weight="normal" text-anchor="middle" fill="#000">)</text></g>
<g filter="url(#bx)">
<rect x="168.4" y="1754.3" width="1684.3" height="1277.7" fill="none" stroke="#000" stroke-width="10.0"/>
<line x1="168.4" y1="1755.8" x2="206.9" y2="1755.8" stroke="#000" stroke-width="11.0" stroke-linecap="butt"/>
<line x1="169.9" y1="1754.3" x2="169.9" y2="1792.8" stroke="#000" stroke-width="11.0" stroke-linecap="butt"/>
<line x1="214.0" y1="1748.3" x2="214.0" y2="1776.8" stroke="#000" stroke-width="9.0" stroke-linecap="butt"/>
<line x1="214.0" y1="3032.0" x2="214.0" y2="3011.5" stroke="#000" stroke-width="9.0" stroke-linecap="butt"/>
<line x1="256.0" y1="1748.3" x2="256.0" y2="1776.8" stroke="#000" stroke-width="9.0" stroke-linecap="butt"/>
<line x1="256.0" y1="3032.0" x2="256.0" y2="3011.5" stroke="#000" stroke-width="9.0" stroke-linecap="butt"/>
<line x1="298.0" y1="1748.3" x2="298.0" y2="1776.8" stroke="#000" stroke-width="9.0" stroke-linecap="butt"/>
<line x1="298.0" y1="3032.0" x2="298.0" y2="3011.5" stroke="#000" stroke-width="9.0" stroke-linecap="butt"/>
<line x1="340.0" y1="1748.3" x2="340.0" y2="1776.8" stroke="#000" stroke-width="9.0" stroke-linecap="butt"/>
<line x1="340.0" y1="3032.0" x2="340.0" y2="3011.5" stroke="#000" stroke-width="9.0" stroke-linecap="butt"/>
<line x1="382.0" y1="1748.3" x2="382.0" y2="1792.8" stroke="#000" stroke-width="9.0" stroke-linecap="butt"/>
<line x1="382.0" y1="3032.0" x2="382.0" y2="2995.5" stroke="#000" stroke-width="9.0" stroke-linecap="butt"/>
<line x1="424.0" y1="1748.3" x2="424.0" y2="1776.8" stroke="#000" stroke-width="9.0" stroke-linecap="butt"/>
<line x1="424.0" y1="3032.0" x2="424.0" y2="3011.5" stroke="#000" stroke-width="9.0" stroke-linecap="butt"/>
<line x1="466.0" y1="1748.3" x2="466.0" y2="1776.8" stroke="#000" stroke-width="9.0" stroke-linecap="butt"/>
<line x1="466.0" y1="3032.0" x2="466.0" y2="3011.5" stroke="#000" stroke-width="9.0" stroke-linecap="butt"/>
<line x1="508.0" y1="1748.3" x2="508.0" y2="1776.8" stroke="#000" stroke-width="9.0" stroke-linecap="butt"/>
<line x1="508.0" y1="3032.0" x2="508.0" y2="3011.5" stroke="#000" stroke-width="9.0" stroke-linecap="butt"/>
<line x1="550.0" y1="1748.3" x2="550.0" y2="1776.8" stroke="#000" stroke-width="9.0" stroke-linecap="butt"/>
<line x1="550.0" y1="3032.0" x2="550.0" y2="3011.5" stroke="#000" stroke-width="9.0" stroke-linecap="butt"/>
<line x1="592.0" y1="1748.3" x2="592.0" y2="1792.8" stroke="#000" stroke-width="9.0" stroke-linecap="butt"/>
<line x1="592.0" y1="3032.0" x2="592.0" y2="2995.5" stroke="#000" stroke-width="9.0" stroke-linecap="butt"/>
<line x1="634.0" y1="1748.3" x2="634.0" y2="1776.8" stroke="#000" stroke-width="9.0" stroke-linecap="butt"/>
<line x1="634.0" y1="3032.0" x2="634.0" y2="3011.5" stroke="#000" stroke-width="9.0" stroke-linecap="butt"/>
<line x1="676.0" y1="1748.3" x2="676.0" y2="1776.8" stroke="#000" stroke-width="9.0" stroke-linecap="butt"/>
<line x1="676.0" y1="3032.0" x2="676.0" y2="3011.5" stroke="#000" stroke-width="9.0" stroke-linecap="butt"/>
<line x1="718.0" y1="1748.3" x2="718.0" y2="1776.8" stroke="#000" stroke-width="9.0" stroke-linecap="butt"/>
<line x1="718.0" y1="3032.0" x2="718.0" y2="3011.5" stroke="#000" stroke-width="9.0" stroke-linecap="butt"/>
<line x1="760.0" y1="1748.3" x2="760.0" y2="1776.8" stroke="#000" stroke-width="9.0" stroke-linecap="butt"/>
<line x1="760.0" y1="3032.0" x2="760.0" y2="3011.5" stroke="#000" stroke-width="9.0" stroke-linecap="butt"/>
<line x1="802.0" y1="1748.3" x2="802.0" y2="1792.8" stroke="#000" stroke-width="9.0" stroke-linecap="butt"/>
<line x1="802.0" y1="3032.0" x2="802.0" y2="2995.5" stroke="#000" stroke-width="9.0" stroke-linecap="butt"/>
<line x1="844.0" y1="1748.3" x2="844.0" y2="1776.8" stroke="#000" stroke-width="9.0" stroke-linecap="butt"/>
<line x1="844.0" y1="3032.0" x2="844.0" y2="3011.5" stroke="#000" stroke-width="9.0" stroke-linecap="butt"/>
<line x1="886.0" y1="1748.3" x2="886.0" y2="1776.8" stroke="#000" stroke-width="9.0" stroke-linecap="butt"/>
<line x1="886.0" y1="3032.0" x2="886.0" y2="3011.5" stroke="#000" stroke-width="9.0" stroke-linecap="butt"/>
<line x1="928.0" y1="1748.3" x2="928.0" y2="1776.8" stroke="#000" stroke-width="9.0" stroke-linecap="butt"/>
<line x1="928.0" y1="3032.0" x2="928.0" y2="3011.5" stroke="#000" stroke-width="9.0" stroke-linecap="butt"/>
<line x1="970.0" y1="1748.3" x2="970.0" y2="1776.8" stroke="#000" stroke-width="9.0" stroke-linecap="butt"/>
<line x1="970.0" y1="3032.0" x2="970.0" y2="3011.5" stroke="#000" stroke-width="9.0" stroke-linecap="butt"/>
<line x1="1012.0" y1="1748.3" x2="1012.0" y2="1792.8" stroke="#000" stroke-width="9.0" stroke-linecap="butt"/>
<line x1="1012.0" y1="3032.0" x2="1012.0" y2="2995.5" stroke="#000" stroke-width="9.0" stroke-linecap="butt"/>
<line x1="1054.0" y1="1748.3" x2="1054.0" y2="1776.8" stroke="#000" stroke-width="9.0" stroke-linecap="butt"/>
<line x1="1054.0" y1="3032.0" x2="1054.0" y2="3011.5" stroke="#000" stroke-width="9.0" stroke-linecap="butt"/>
<line x1="1096.0" y1="1748.3" x2="1096.0" y2="1776.8" stroke="#000" stroke-width="9.0" stroke-linecap="butt"/>
<line x1="1096.0" y1="3032.0" x2="1096.0" y2="3011.5" stroke="#000" stroke-width="9.0" stroke-linecap="butt"/>
<line x1="1138.0" y1="1748.3" x2="1138.0" y2="1776.8" stroke="#000" stroke-width="9.0" stroke-linecap="butt"/>
<line x1="1138.0" y1="3032.0" x2="1138.0" y2="3011.5" stroke="#000" stroke-width="9.0" stroke-linecap="butt"/>
<line x1="1180.0" y1="1748.3" x2="1180.0" y2="1776.8" stroke="#000" stroke-width="9.0" stroke-linecap="butt"/>
<line x1="1180.0" y1="3032.0" x2="1180.0" y2="3011.5" stroke="#000" stroke-width="9.0" stroke-linecap="butt"/>
<line x1="1222.0" y1="1748.3" x2="1222.0" y2="1792.8" stroke="#000" stroke-width="9.0" stroke-linecap="butt"/>
<line x1="1222.0" y1="3032.0" x2="1222.0" y2="2995.5" stroke="#000" stroke-width="9.0" stroke-linecap="butt"/>
<line x1="1264.0" y1="1748.3" x2="1264.0" y2="1776.8" stroke="#000" stroke-width="9.0" stroke-linecap="butt"/>
<line x1="1264.0" y1="3032.0" x2="1264.0" y2="3011.5" stroke="#000" stroke-width="9.0" stroke-linecap="butt"/>
<line x1="1306.0" y1="1748.3" x2="1306.0" y2="1776.8" stroke="#000" stroke-width="9.0" stroke-linecap="butt"/>
<line x1="1306.0" y1="3032.0" x2="1306.0" y2="3011.5" stroke="#000" stroke-width="9.0" stroke-linecap="butt"/>
<line x1="1348.0" y1="1748.3" x2="1348.0" y2="1776.8" stroke="#000" stroke-width="9.0" stroke-linecap="butt"/>
<line x1="1348.0" y1="3032.0" x2="1348.0" y2="3011.5" stroke="#000" stroke-width="9.0" stroke-linecap="butt"/>
<line x1="1390.0" y1="1748.3" x2="1390.0" y2="1776.8" stroke="#000" stroke-width="9.0" stroke-linecap="butt"/>
<line x1="1390.0" y1="3032.0" x2="1390.0" y2="3011.5" stroke="#000" stroke-width="9.0" stroke-linecap="butt"/>
<line x1="1432.0" y1="1748.3" x2="1432.0" y2="1792.8" stroke="#000" stroke-width="9.0" stroke-linecap="butt"/>
<line x1="1432.0" y1="3032.0" x2="1432.0" y2="2995.5" stroke="#000" stroke-width="9.0" stroke-linecap="butt"/>
<line x1="1474.0" y1="1748.3" x2="1474.0" y2="1776.8" stroke="#000" stroke-width="9.0" stroke-linecap="butt"/>
<line x1="1474.0" y1="3032.0" x2="1474.0" y2="3011.5" stroke="#000" stroke-width="9.0" stroke-linecap="butt"/>
<line x1="1516.0" y1="1748.3" x2="1516.0" y2="1776.8" stroke="#000" stroke-width="9.0" stroke-linecap="butt"/>
<line x1="1516.0" y1="3032.0" x2="1516.0" y2="3011.5" stroke="#000" stroke-width="9.0" stroke-linecap="butt"/>
<line x1="1558.0" y1="1748.3" x2="1558.0" y2="1776.8" stroke="#000" stroke-width="9.0" stroke-linecap="butt"/>
<line x1="1558.0" y1="3032.0" x2="1558.0" y2="3011.5" stroke="#000" stroke-width="9.0" stroke-linecap="butt"/>
<line x1="1600.0" y1="1748.3" x2="1600.0" y2="1776.8" stroke="#000" stroke-width="9.0" stroke-linecap="butt"/>
<line x1="1600.0" y1="3032.0" x2="1600.0" y2="3011.5" stroke="#000" stroke-width="9.0" stroke-linecap="butt"/>
<line x1="1642.0" y1="1748.3" x2="1642.0" y2="1792.8" stroke="#000" stroke-width="9.0" stroke-linecap="butt"/>
<line x1="1642.0" y1="3032.0" x2="1642.0" y2="2995.5" stroke="#000" stroke-width="9.0" stroke-linecap="butt"/>
<line x1="1684.0" y1="1748.3" x2="1684.0" y2="1776.8" stroke="#000" stroke-width="9.0" stroke-linecap="butt"/>
<line x1="1684.0" y1="3032.0" x2="1684.0" y2="3011.5" stroke="#000" stroke-width="9.0" stroke-linecap="butt"/>
<line x1="1726.0" y1="1748.3" x2="1726.0" y2="1776.8" stroke="#000" stroke-width="9.0" stroke-linecap="butt"/>
<line x1="1726.0" y1="3032.0" x2="1726.0" y2="3011.5" stroke="#000" stroke-width="9.0" stroke-linecap="butt"/>
<line x1="1768.0" y1="1748.3" x2="1768.0" y2="1776.8" stroke="#000" stroke-width="9.0" stroke-linecap="butt"/>
<line x1="1768.0" y1="3032.0" x2="1768.0" y2="3011.5" stroke="#000" stroke-width="9.0" stroke-linecap="butt"/>
<line x1="1810.0" y1="1748.3" x2="1810.0" y2="1776.8" stroke="#000" stroke-width="9.0" stroke-linecap="butt"/>
<line x1="1810.0" y1="3032.0" x2="1810.0" y2="3011.5" stroke="#000" stroke-width="9.0" stroke-linecap="butt"/>
<line x1="161.9" y1="1801.2" x2="188.4" y2="1801.2" stroke="#000" stroke-width="9.0" stroke-linecap="butt"/>
<line x1="1858.2" y1="1801.2" x2="1830.2" y2="1801.2" stroke="#000" stroke-width="9.0" stroke-linecap="butt"/>
<line x1="161.9" y1="1846.9" x2="188.4" y2="1846.9" stroke="#000" stroke-width="9.0" stroke-linecap="butt"/>
<line x1="1858.2" y1="1846.9" x2="1830.2" y2="1846.9" stroke="#000" stroke-width="9.0" stroke-linecap="butt"/>
<line x1="161.9" y1="1892.5" x2="188.4" y2="1892.5" stroke="#000" stroke-width="9.0" stroke-linecap="butt"/>
<line x1="1858.2" y1="1892.5" x2="1830.2" y2="1892.5" stroke="#000" stroke-width="9.0" stroke-linecap="butt"/>
<line x1="161.9" y1="1938.1" x2="203.9" y2="1938.1" stroke="#000" stroke-width="9.0" stroke-linecap="butt"/>
<line x1="1858.2" y1="1938.1" x2="1814.2" y2="1938.1" stroke="#000" stroke-width="9.0" stroke-linecap="butt"/>
<line x1="161.9" y1="1983.8" x2="188.4" y2="1983.8" stroke="#000" stroke-width="9.0" stroke-linecap="butt"/>
<line x1="1858.2" y1="1983.8" x2="1830.2" y2="1983.8" stroke="#000" stroke-width="9.0" stroke-linecap="butt"/>
<line x1="161.9" y1="2029.4" x2="188.4" y2="2029.4" stroke="#000" stroke-width="9.0" stroke-linecap="butt"/>
<line x1="1858.2" y1="2029.4" x2="1830.2" y2="2029.4" stroke="#000" stroke-width="9.0" stroke-linecap="butt"/>
<line x1="161.9" y1="2075.0" x2="188.4" y2="2075.0" stroke="#000" stroke-width="9.0" stroke-linecap="butt"/>
<line x1="1858.2" y1="2075.0" x2="1830.2" y2="2075.0" stroke="#000" stroke-width="9.0" stroke-linecap="butt"/>
<line x1="161.9" y1="2120.7" x2="203.9" y2="2120.7" stroke="#000" stroke-width="9.0" stroke-linecap="butt"/>
<line x1="1858.2" y1="2120.7" x2="1814.2" y2="2120.7" stroke="#000" stroke-width="9.0" stroke-linecap="butt"/>
<line x1="161.9" y1="2166.3" x2="188.4" y2="2166.3" stroke="#000" stroke-width="9.0" stroke-linecap="butt"/>
<line x1="1858.2" y1="2166.3" x2="1830.2" y2="2166.3" stroke="#000" stroke-width="9.0" stroke-linecap="butt"/>
<line x1="161.9" y1="2211.9" x2="188.4" y2="2211.9" stroke="#000" stroke-width="9.0" stroke-linecap="butt"/>
<line x1="1858.2" y1="2211.9" x2="1830.2" y2="2211.9" stroke="#000" stroke-width="9.0" stroke-linecap="butt"/>
<line x1="161.9" y1="2257.6" x2="188.4" y2="2257.6" stroke="#000" stroke-width="9.0" stroke-linecap="butt"/>
<line x1="1858.2" y1="2257.6" x2="1830.2" y2="2257.6" stroke="#000" stroke-width="9.0" stroke-linecap="butt"/>
<line x1="161.9" y1="2303.2" x2="203.9" y2="2303.2" stroke="#000" stroke-width="9.0" stroke-linecap="butt"/>
<line x1="1858.2" y1="2303.2" x2="1814.2" y2="2303.2" stroke="#000" stroke-width="9.0" stroke-linecap="butt"/>
<line x1="161.9" y1="2348.8" x2="188.4" y2="2348.8" stroke="#000" stroke-width="9.0" stroke-linecap="butt"/>
<line x1="1858.2" y1="2348.8" x2="1830.2" y2="2348.8" stroke="#000" stroke-width="9.0" stroke-linecap="butt"/>
<line x1="161.9" y1="2394.4" x2="188.4" y2="2394.4" stroke="#000" stroke-width="9.0" stroke-linecap="butt"/>
<line x1="1858.2" y1="2394.4" x2="1830.2" y2="2394.4" stroke="#000" stroke-width="9.0" stroke-linecap="butt"/>
<line x1="161.9" y1="2440.1" x2="188.4" y2="2440.1" stroke="#000" stroke-width="9.0" stroke-linecap="butt"/>
<line x1="1858.2" y1="2440.1" x2="1830.2" y2="2440.1" stroke="#000" stroke-width="9.0" stroke-linecap="butt"/>
<line x1="161.9" y1="2485.7" x2="203.9" y2="2485.7" stroke="#000" stroke-width="9.0" stroke-linecap="butt"/>
<line x1="1858.2" y1="2485.7" x2="1814.2" y2="2485.7" stroke="#000" stroke-width="9.0" stroke-linecap="butt"/>
<line x1="161.9" y1="2531.3" x2="188.4" y2="2531.3" stroke="#000" stroke-width="9.0" stroke-linecap="butt"/>
<line x1="1858.2" y1="2531.3" x2="1830.2" y2="2531.3" stroke="#000" stroke-width="9.0" stroke-linecap="butt"/>
<line x1="161.9" y1="2577.0" x2="188.4" y2="2577.0" stroke="#000" stroke-width="9.0" stroke-linecap="butt"/>
<line x1="1858.2" y1="2577.0" x2="1830.2" y2="2577.0" stroke="#000" stroke-width="9.0" stroke-linecap="butt"/>
<line x1="161.9" y1="2622.6" x2="188.4" y2="2622.6" stroke="#000" stroke-width="9.0" stroke-linecap="butt"/>
<line x1="1858.2" y1="2622.6" x2="1830.2" y2="2622.6" stroke="#000" stroke-width="9.0" stroke-linecap="butt"/>
<line x1="161.9" y1="2668.2" x2="203.9" y2="2668.2" stroke="#000" stroke-width="9.0" stroke-linecap="butt"/>
<line x1="1858.2" y1="2668.2" x2="1814.2" y2="2668.2" stroke="#000" stroke-width="9.0" stroke-linecap="butt"/>
<line x1="161.9" y1="2713.9" x2="188.4" y2="2713.9" stroke="#000" stroke-width="9.0" stroke-linecap="butt"/>
<line x1="1858.2" y1="2713.9" x2="1830.2" y2="2713.9" stroke="#000" stroke-width="9.0" stroke-linecap="butt"/>
<line x1="161.9" y1="2759.5" x2="188.4" y2="2759.5" stroke="#000" stroke-width="9.0" stroke-linecap="butt"/>
<line x1="1858.2" y1="2759.5" x2="1830.2" y2="2759.5" stroke="#000" stroke-width="9.0" stroke-linecap="butt"/>
<line x1="161.9" y1="2805.1" x2="188.4" y2="2805.1" stroke="#000" stroke-width="9.0" stroke-linecap="butt"/>
<line x1="1858.2" y1="2805.1" x2="1830.2" y2="2805.1" stroke="#000" stroke-width="9.0" stroke-linecap="butt"/>
<line x1="161.9" y1="2850.8" x2="203.9" y2="2850.8" stroke="#000" stroke-width="9.0" stroke-linecap="butt"/>
<line x1="1858.2" y1="2850.8" x2="1814.2" y2="2850.8" stroke="#000" stroke-width="9.0" stroke-linecap="butt"/>
<line x1="161.9" y1="2896.4" x2="188.4" y2="2896.4" stroke="#000" stroke-width="9.0" stroke-linecap="butt"/>
<line x1="1858.2" y1="2896.4" x2="1830.2" y2="2896.4" stroke="#000" stroke-width="9.0" stroke-linecap="butt"/>
<line x1="161.9" y1="2942.0" x2="188.4" y2="2942.0" stroke="#000" stroke-width="9.0" stroke-linecap="butt"/>
<line x1="1858.2" y1="2942.0" x2="1830.2" y2="2942.0" stroke="#000" stroke-width="9.0" stroke-linecap="butt"/>
<line x1="161.9" y1="2987.7" x2="188.4" y2="2987.7" stroke="#000" stroke-width="9.0" stroke-linecap="butt"/>
<line x1="1858.2" y1="2987.7" x2="1830.2" y2="2987.7" stroke="#000" stroke-width="9.0" stroke-linecap="butt"/>
</g>
<g filter="url(#bl)">
<polygon points="665.6,1945.3 670.6,1945.3 672.1,2032.0 676.6,3032.0 659.6,3032.0 664.1,2032.0" fill="#262626"/>
<polygon points="668.1,2350.0 670.4,3032.0 665.8,3032.0" fill="#585858"/>
<polygon points="655.0,3032.0 660.0,2990.0 665.0,2990.0 664.0,3032.0" fill="#000"/>
<polygon points="687.2,2985.7 694.2,2985.7 695.7,3010.0 701.7,3032.0 679.7,3032.0 685.7,3010.0" fill="#111"/>
<polygon points="816.8,2893.7 822.8,2893.7 824.3,2962.0 827.8,3032.0 811.8,3032.0 815.3,2962.0" fill="#111"/>
<polygon points="1312.4,2851.1 1319.4,2851.1 1320.9,2952.0 1325.9,3032.0 1305.9,3032.0 1310.9,2952.0" fill="#111"/>
<polygon points="1644.8,2929.4 1652.8,2929.4 1654.3,2982.0 1660.3,3032.0 1637.3,3032.0 1643.3,2982.0" fill="#111"/>
<polygon points="1753.0,2980.0 1759.0,2980.0 1760.5,3012.0 1762.5,3032.0 1749.5,3032.0 1751.5,3012.0" fill="#111"/>
<path d="M168.4,3032.0 L169.4,3008.3 L179.4,3008.3 L181.4,3020.2 L183.4,3020.2 L185.4,3018.7 L191.4,3018.7 L193.4,3021.0 L195.4,3021.0 L197.4,3015.0 L199.4,3015.0 L201.4,3021.5 L203.4,3021.5 L205.4,3023.4 L207.4,3023.4 L209.4,3019.7 L219.4,3019.7 L221.4,3022.9 L223.4,3022.9 L225.4,3015.4 L227.4,3015.4 L229.4,3014.8 L235.4,3014.8 L237.4,3019.1 L243.4,3019.1 L245.4,3022.3 L251.4,3022.3 L253.4,3017.5 L259.4,3017.5 L261.4,3014.0 L263.4,3014.0 L265.4,3015.1 L271.4,3015.1 L273.4,3020.2 L275.4,3020.2 L277.4,3018.0 L283.4,3018.0 L285.4,3019.7 L287.4,3019.7 L289.4,3018.8 L291.4,3018.8 L293.4,3009.7 L295.4,3009.7 L297.4,3018.3 L307.4,3018.3 L309.4,3021.8 L311.4,3021.8 L313.4,3021.0 L319.4,3021.0 L321.4,3015.5 L323.4,3015.5 L325.4,3010.6 L327.4,3010.6 L329.4,3022.4 L335.4,3022.4 L337.4,3023.6 L343.4,3023.6 L345.4,3009.7 L347.4,3009.7 L349.4,3010.5 L359.4,3010.5 L361.4,3016.8 L363.4,3016.8 L365.4,3019.7 L375.4,3019.7 L377.4,3009.2 L379.4,3009.2 L381.4,3020.3 L387.4,3020.3 L389.4,3021.6 L399.4,3021.6 L401.4,3021.0 L403.4,3021.0 L405.4,3010.1 L407.4,3010.1 L409.4,3012.2 L411.4,3012.2 L413.4,3008.4 L415.4,3008.4 L417.4,3020.3 L423.4,3020.3 L425.4,3012.7 L427.4,3012.7 L429.4,3016.8 L435.4,3016.8 L437.4,3014.4 L439.4,3014.4 L441.4,3021.1 L443.4,3021.1 L445.4,3008.9 L447.4,3008.9 L449.4,3018.3 L451.4,3018.3 L453.4,3018.9 L455.4,3018.9 L457.4,3020.5 L459.4,3020.5 L461.4,3011.8 L463.4,3011.8 L465.4,3021.5 L475.4,3021.5 L477.4,3009.1 L479.4,3009.1 L481.4,3018.9 L483.4,3018.9 L485.4,3014.0 L487.4,3014.0 L489.4,3016.9 L495.4,3016.9 L497.4,3013.0 L503.4,3013.0 L505.4,3020.1 L507.4,3020.1 L509.4,3009.9 L511.4,3009.9 L513.4,3008.5 L523.4,3008.5 L525.4,3020.8 L527.4,3020.8 L529.4,3020.1 L531.4,3020.1 L533.4,3011.6 L535.4,3011.6 L537.4,3012.5 L543.4,3012.5 L545.4,3017.2 L547.4,3017.2 L549.4,3015.6 L551.4,3015.6 L553.4,3020.1 L563.4,3020.1 L565.4,3021.8 L571.4,3021.8 L573.4,3017.8 L579.4,3017.8 L581.4,3008.6 L591.4,3008.6 L593.4,3009.1 L599.4,3009.1 L601.4,3005.4 L603.4,3005.4 L605.4,3019.6 L611.4,3019.6 L613.4,3011.0 L619.4,3011.0 L621.4,3014.9 L623.4,3014.9 L625.4,3018.9 L631.4,3018.9 L633.4,3014.0 L635.4,3014.0 L637.4,3008.5 L639.4,3008.5 L641.4,3019.6 L647.4,3019.6 L649.4,3019.8 L651.4,3019.8 L653.4,3015.6 L663.4,3015.6 L665.4,3022.0 L667.4,3022.0 L669.4,3019.8 L671.4,3019.8 L673.4,3021.6 L675.4,3021.6 L677.4,3008.5 L679.4,3008.5 L681.4,3014.0 L683.4,3014.0 L685.4,3012.9 L687.4,3012.9 L689.4,3011.3 L691.4,3011.3 L693.4,3015.7 L699.4,3015.7 L701.4,3021.2 L711.4,3021.2 L713.4,3019.9 L715.4,3019.9 L717.4,3018.4 L727.4,3018.4 L729.4,3014.0 L731.4,3014.0 L733.4,3017.1 L735.4,3017.1 L737.4,3012.3 L739.4,3012.3 L741.4,3013.8 L743.4,3013.8 L745.4,3003.1 L755.4,3003.1 L757.4,3019.0 L763.4,3019.0 L765.4,3009.1 L771.4,3009.1 L773.4,3017.3 L775.4,3017.3 L777.4,3007.8 L779.4,3007.8 L781.4,3005.9 L783.4,3005.9 L785.4,3015.7 L787.4,3015.7 L789.4,3012.0 L791.4,3012.0 L793.4,3006.9 L799.4,3006.9 L801.4,3005.7 L807.4,3005.7 L809.4,3018.7 L811.4,3018.7 L813.4,3012.3 L815.4,3012.3 L817.4,3014.6 L819.4,3014.6 L821.4,3016.9 L827.4,3016.9 L829.4,3011.1 L831.4,3011.1 L833.4,3010.8 L839.4,3010.8 L841.4,3012.6 L851.4,3012.6 L853.4,3006.9 L855.4,3006.9 L857.4,3015.3 L867.4,3015.3 L869.4,3015.2 L875.4,3015.2 L877.4,3022.1 L883.4,3022.1 L885.4,3012.3 L887.4,3012.3 L889.4,3012.1 L895.4,3012.1 L897.4,3007.8 L899.4,3007.8 L901.4,3006.1 L911.4,3006.1 L913.4,3012.7 L923.4,3012.7 L925.4,3021.5 L931.4,3021.5 L933.4,3023.3 L939.4,3023.3 L941.4,3016.3 L947.4,3016.3 L949.4,3022.4 L955.4,3022.4 L957.4,3014.6 L963.4,3014.6 L965.4,3010.3 L967.4,3010.3 L969.4,3015.0 L971.4,3015.0 L973.4,3019.4 L979.4,3019.4 L981.4,3011.4 L987.4,3011.4 L989.4,3010.7 L991.4,3010.7 L993.4,3012.7 L1003.4,3012.7 L1005.4,3021.7 L1011.4,3021.7 L1013.4,3016.2 L1015.4,3016.2 L1017.4,3010.0 L1019.4,3010.0 L1021.4,3018.0 L1023.4,3018.0 L1025.4,3010.7 L1035.4,3010.7 L1037.4,3009.1 L1039.4,3009.1 L1041.4,3019.7 L1043.4,3019.7 L1045.4,3014.9 L1051.4,3014.9 L1053.4,3020.2 L1059.4,3020.2 L1061.4,3016.3 L1071.4,3016.3 L1073.4,3020.3 L1079.4,3020.3 L1081.4,3015.2 L1087.4,3015.2 L1089.4,3010.6 L1099.4,3010.6 L1101.4,3020.2 L1103.4,3020.2 L1105.4,3022.7 L1107.4,3022.7 L1109.4,3008.9 L1111.4,3008.9 L1113.4,3011.0 L1119.4,3011.0 L1121.4,3008.4 L1123.4,3008.4 L1125.4,3013.5 L1127.4,3013.5 L1129.4,3021.6 L1131.4,3021.6 L1133.4,3012.5 L1135.4,3012.5 L1137.4,3021.1 L1139.4,3021.1 L1141.4,3012.7 L1143.4,3012.7 L1145.4,3020.2 L1147.4,3020.2 L1149.4,3012.8 L1159.4,3012.8 L1161.4,3012.5 L1171.4,3012.5 L1173.4,3016.4 L1183.4,3016.4 L1185.4,3021.6 L1187.4,3021.6 L1189.4,3019.0 L1191.4,3019.0 L1193.4,3015.6 L1195.4,3015.6 L1197.4,3022.2 L1207.4,3022.2 L1209.4,3019.9 L1219.4,3019.9 L1221.4,3012.9 L1227.4,3012.9 L1229.4,3009.4 L1231.4,3009.4 L1233.4,3012.5 L1235.4,3012.5 L1237.4,3016.7 L1239.4,3016.7 L1241.4,3015.8 L1247.4,3015.8 L1249.4,3010.6 L1255.4,3010.6 L1257.4,3007.2 L1263.4,3007.2 L1265.4,3018.9 L1271.4,3018.9 L1273.4,3019.0 L1275.4,3019.0 L1277.4,3009.8 L1283.4,3009.8 L1285.4,3020.5 L1287.4,3020.5 L1289.4,3013.3 L1291.4,3013.3 L1293.4,3012.7 L1295.4,3012.7 L1297.4,3013.9 L1299.4,3013.9 L1301.4,3018.0 L1303.4,3018.0 L1305.4,3014.7 L1311.4,3014.7 L1313.4,3012.5 L1315.4,3012.5 L1317.4,3007.0 L1323.4,3007.0 L1325.4,3005.7 L1331.4,3005.7 L1333.4,3016.7 L1335.4,3016.7 L1337.4,3018.6 L1343.4,3018.6 L1345.4,3017.7 L1351.4,3017.7 L1353.4,3018.3 L1363.4,3018.3 L1365.4,3012.5 L1367.4,3012.5 L1369.4,3020.7 L1371.4,3020.7 L1373.4,3020.2 L1375.4,3020.2 L1377.4,3022.4 L1379.4,3022.4 L1381.4,3020.4 L1391.4,3020.4 L1393.4,3017.6 L1399.4,3017.6 L1401.4,3020.6 L1403.4,3020.6 L1405.4,3010.0 L1407.4,3010.0 L1409.4,2999.9 L1411.4,2999.9 L1413.4,3010.2 L1423.4,3010.2 L1425.4,3015.5 L1431.4,3015.5 L1433.4,3022.0 L1439.4,3022.0 L1441.4,3019.3 L1447.4,3019.3 L1449.4,3017.6 L1451.4,3017.6 L1453.4,3013.7 L1455.4,3013.7 L1457.4,3018.8 L1459.4,3018.8 L1461.4,3022.0 L1467.4,3022.0 L1469.4,3006.1 L1471.4,3006.1 L1473.4,3014.5 L1479.4,3014.5 L1481.4,3007.1 L1483.4,3007.1 L1485.4,3019.6 L1487.4,3019.6 L1489.4,3008.4 L1491.4,3008.4 L1493.4,3006.4 L1495.4,3006.4 L1497.4,3017.6 L1499.4,3017.6 L1501.4,3020.2 L1503.4,3020.2 L1505.4,3016.6 L1507.4,3016.6 L1509.4,3017.5 L1511.4,3017.5 L1513.4,3011.1 L1515.4,3011.1 L1517.4,3006.5 L1523.4,3006.5 L1525.4,3013.9 L1531.4,3013.9 L1533.4,3018.2 L1539.4,3018.2 L1541.4,3012.0 L1543.4,3012.0 L1545.4,3018.6 L1547.4,3018.6 L1549.4,3022.9 L1551.4,3022.9 L1553.4,3023.1 L1555.4,3023.1 L1557.4,3011.4 L1559.4,3011.4 L1561.4,3014.6 L1567.4,3014.6 L1569.4,3012.1 L1579.4,3012.1 L1581.4,3021.3 L1583.4,3021.3 L1585.4,3019.8 L1587.4,3019.8 L1589.4,3005.8 L1591.4,3005.8 L1593.4,3013.2 L1595.4,3013.2 L1597.4,3011.2 L1603.4,3011.2 L1605.4,3009.1 L1611.4,3009.1 L1613.4,3008.7 L1615.4,3008.7 L1617.4,3016.6 L1619.4,3016.6 L1621.4,3010.2 L1623.4,3010.2 L1625.4,3012.6 L1631.4,3012.6 L1633.4,3018.2 L1635.4,3018.2 L1637.4,3017.7 L1639.4,3017.7 L1641.4,3022.3 L1643.4,3022.3 L1645.4,3015.1 L1647.4,3015.1 L1649.4,3008.9 L1651.4,3008.9 L1653.4,3007.7 L1655.4,3007.7 L1657.4,3015.5 L1659.4,3015.5 L1661.4,3016.7 L1663.4,3016.7 L1665.4,3019.6 L1667.4,3019.6 L1669.4,3016.3 L1671.4,3016.3 L1673.4,3022.3 L1675.4,3022.3 L1677.4,3016.7 L1683.4,3016.7 L1685.4,3012.0 L1687.4,3012.0 L1689.4,3007.4 L1691.4,3007.4 L1693.4,3008.1 L1695.4,3008.1 L1697.4,3009.0 L1703.4,3009.0 L1705.4,3006.6 L1707.4,3006.6 L1709.4,3009.4 L1711.4,3009.4 L1713.4,3019.1 L1715.4,3019.1 L1717.4,3015.5 L1719.4,3015.5 L1721.4,3016.5 L1727.4,3016.5 L1729.4,3009.8 L1731.4,3009.8 L1733.4,3019.3 L1743.4,3019.3 L1745.4,3015.9 L1755.4,3015.9 L1757.4,3015.3 L1759.4,3015.3 L1761.4,3018.2 L1767.4,3018.2 L1769.4,3009.6 L1779.4,3009.6 L1781.4,3018.7 L1783.4,3018.7 L1785.4,3013.5 L1795.4,3013.5 L1797.4,3019.9 L1803.4,3019.9 L1805.4,3017.5 L1811.4,3017.5 L1813.4,3020.1 L1819.4,3020.1 L1821.4,3023.0 L1831.4,3023.0 L1833.4,3009.3 L1835.4,3009.3 L1837.4,3013.7 L1843.4,3013.7 L1845.4,3021.0 L1851.4,3021.0 L1853.4,3013.8 L1851.7,3013.8 L1852.7,3032.0Z" fill="#000" stroke="#000" stroke-width="1" stroke-linejoin="round"/>
<polygon points="668.5,2975.0 671.0,3024.0 665.0,3024.0" fill="#fff"/>
<polygon points="819.8,2995.0 822.5,3024.0 817.0,3024.0" fill="#fff"/>
<polygon points="1316.0,3000.0 1319.0,3024.0 1313.0,3024.0" fill="#fff"/>
<polygon points="1650.0,2995.0 1653.5,3024.0 1646.5,3024.0" fill="#fff"/>
<g fill="#000"><circle cx="666.8" cy="1800.4" r="6.6"/><circle cx="658.2" cy="1812.4" r="7.9"/><circle cx="675.4" cy="1812.4" r="7.9"/><polygon points="666.8,1796.3 680.7,1809.9 676.7,1819.2 671.8,1824.8 661.8,1824.8 656.9,1819.2 652.9,1809.9"/></g>
<ellipse cx="664.8" cy="1864.8" rx="10.5" ry="10.5" fill="#000"/>
<text x="685.0" y="1878.5" font-family='"Liberation Sans", sans-serif' font-size="39" font-weight="normal" text-anchor="start" fill="#484848" stroke="#484848" stroke-width="1.5" stroke-linejoin="round">(200)</text>
<text x="667.5" y="1926.0" font-family='"Liberation Serif", serif' font-size="50" font-weight="bold" text-anchor="middle" fill="#000" stroke="#000" stroke-width="1.2" stroke-linejoin="round">γ</text>
<text x="688.0" y="1925.0" font-family='"Liberation Sans", sans-serif' font-size="39" font-weight="normal" text-anchor="start" fill="#484848" stroke="#484848" stroke-width="1.5" stroke-linejoin="round">(111)</text>
<rect x="701.6" y="1921.1" width="8.0" height="6.3" fill="#fff"/>
<rect x="715.3" y="1921.1" width="5.1" height="6.3" fill="#fff"/>
<rect x="720.4" y="1921.1" width="8.0" height="6.3" fill="#fff"/>
<rect x="734.1" y="1921.1" width="5.1" height="6.3" fill="#fff"/>
<rect x="739.2" y="1921.1" width="8.0" height="6.3" fill="#fff"/>
<rect x="752.9" y="1921.1" width="7.4" height="6.3" fill="#fff"/>
<text x="695.0" y="2972.0" font-family='"Liberation Serif", serif' font-size="50" font-weight="bold" text-anchor="middle" fill="#000" stroke="#000" stroke-width="1.2" stroke-linejoin="round">α</text>
<text x="718.0" y="2971.0" font-family='"Liberation Sans", sans-serif' font-size="39" font-weight="normal" text-anchor="start" fill="#484848" stroke="#484848" stroke-width="1.5" stroke-linejoin="round">(110)</text>
<rect x="731.6" y="2967.1" width="8.0" height="6.3" fill="#fff"/>
<rect x="745.3" y="2967.1" width="5.1" height="6.3" fill="#fff"/>
<rect x="750.4" y="2967.1" width="8.0" height="6.3" fill="#fff"/>
<rect x="764.1" y="2967.1" width="7.4" height="6.3" fill="#fff"/>
<path d="M819.0,2741.3 Q824.8,2749.6 832.5,2755.8 Q824.8,2762.0 819.0,2770.3 Q813.2,2762.0 805.5,2755.8 Q813.2,2749.6 819.0,2741.3Z" fill="#000"/>
<g fill="#000"><circle cx="818.4" cy="2803.7" r="6.6"/><circle cx="809.8" cy="2815.7" r="7.9"/><circle cx="827.0" cy="2815.7" r="7.9"/><polygon points="818.4,2799.6 832.3,2813.2 828.3,2822.5 823.4,2828.1 813.4,2828.1 808.5,2822.5 804.5,2813.2"/></g>
<text x="846.0" y="2825.5" font-family='"Liberation Sans", sans-serif' font-size="39" font-weight="normal" text-anchor="start" fill="#484848" stroke="#484848" stroke-width="1.5" stroke-linejoin="round">(111)</text>
<rect x="859.6" y="2821.6" width="8.0" height="6.3" fill="#fff"/>
<rect x="873.3" y="2821.6" width="5.1" height="6.3" fill="#fff"/>
<rect x="878.4" y="2821.6" width="8.0" height="6.3" fill="#fff"/>
<rect x="892.1" y="2821.6" width="5.1" height="6.3" fill="#fff"/>
<rect x="897.2" y="2821.6" width="8.0" height="6.3" fill="#fff"/>
<rect x="910.9" y="2821.6" width="7.4" height="6.3" fill="#fff"/>
<text x="820.5" y="2872.0" font-family='"Liberation Serif", serif' font-size="50" font-weight="bold" text-anchor="middle" fill="#000" stroke="#000" stroke-width="1.2" stroke-linejoin="round">γ</text>
<text x="840.0" y="2872.0" font-family='"Liberation Sans", sans-serif' font-size="39" font-weight="normal" text-anchor="start" fill="#484848" stroke="#484848" stroke-width="1.5" stroke-linejoin="round">(200)</text>
<path d="M1315.9,2716.3 Q1321.7,2724.6 1329.4,2730.8 Q1321.7,2737.0 1315.9,2745.3 Q1310.1,2737.0 1302.4,2730.8 Q1310.1,2724.6 1315.9,2716.3Z" fill="#000"/>
<g fill="#000"><circle cx="1315.9" cy="2776.6" r="6.6"/><circle cx="1307.3" cy="2789.2" r="7.9"/><circle cx="1324.5" cy="2789.2" r="7.9"/><polygon points="1315.9,2772.6 1329.8,2786.6 1325.8,2796.2 1320.9,2802.0 1311.0,2802.0 1306.0,2796.2 1302.0,2786.6"/></g>
<text x="1343.0" y="2799.5" font-family='"Liberation Sans", sans-serif' font-size="39" font-weight="normal" text-anchor="start" fill="#484848" stroke="#484848" stroke-width="1.5" stroke-linejoin="round">(200)</text>
<ellipse cx="1314.0" cy="2830.5" rx="10.5" ry="10.5" fill="#000"/>
<text x="1333.0" y="2844.5" font-family='"Liberation Sans", sans-serif' font-size="39" font-weight="normal" text-anchor="start" fill="#484848" stroke="#484848" stroke-width="1.5" stroke-linejoin="round">(220)</text>
<g fill="#000"><circle cx="1644.6" cy="2838.2" r="6.6"/><circle cx="1636.0" cy="2850.8" r="7.9"/><circle cx="1653.2" cy="2850.8" r="7.9"/><polygon points="1644.6,2834.2 1658.5,2848.2 1654.5,2857.8 1649.5,2863.6 1639.6,2863.6 1634.7,2857.8 1630.7,2848.2"/></g>
<text x="1672.0" y="2859.8" font-family='"Liberation Sans", sans-serif' font-size="39" font-weight="normal" text-anchor="start" fill="#484848" stroke="#484848" stroke-width="1.5" stroke-linejoin="round">(220)</text>
<text x="1646.0" y="2907.0" font-family='"Liberation Serif", serif' font-size="50" font-weight="bold" text-anchor="middle" fill="#000" stroke="#000" stroke-width="1.2" stroke-linejoin="round">γ</text>
<text x="1667.0" y="2906.5" font-family='"Liberation Sans", sans-serif' font-size="39" font-weight="normal" text-anchor="start" fill="#484848" stroke="#484848" stroke-width="1.5" stroke-linejoin="round">(220)</text>
<ellipse cx="1755.0" cy="2957.7" rx="10.5" ry="10.5" fill="#000"/>
<ellipse cx="1484.2" cy="1850.5" rx="13.0" ry="13.0" fill="#000"/>
<text x="1535.5" y="1869.4" font-family='"Liberation Sans", sans-serif' font-size="56" font-weight="normal" text-anchor="start" fill="#383838" letter-spacing="-0.5" stroke="#383838" stroke-width="1.6" stroke-linejoin="round">TiC</text>
<text x="1486.5" y="1946.5" font-family='"Liberation Serif", serif' font-size="68" font-weight="bold" text-anchor="middle" fill="#000" stroke="#000" stroke-width="1.5" stroke-linejoin="round">γ</text>
<text x="1536.0" y="1945.0" font-family='"Liberation Sans", sans-serif' font-size="56" font-weight="normal" text-anchor="start" fill="#383838" letter-spacing="-1.4" stroke="#383838" stroke-width="1.6" stroke-linejoin="round">Austenite</text>
<path d="M1488.6,1980.3 Q1495.9,1990.6 1505.6,1998.3 Q1495.9,2006.0 1488.6,2016.3 Q1481.3,2006.0 1471.6,1998.3 Q1481.3,1990.6 1488.6,1980.3Z" fill="#000"/>
<text x="1536.6" y="2015.8" font-family='"Liberation Sans", sans-serif' font-size="56" font-weight="normal" text-anchor="start" fill="#383838" letter-spacing="-1.2" stroke="#383838" stroke-width="1.6" stroke-linejoin="round">NiAl</text>
<g fill="#000"><circle cx="1488.6" cy="2063.0" r="8.2"/><circle cx="1477.9" cy="2077.6" r="9.8"/><circle cx="1499.3" cy="2077.6" r="9.8"/><polygon points="1488.6,2057.8 1505.8,2074.6 1500.9,2086.0 1494.8,2092.8 1482.4,2092.8 1476.3,2086.0 1471.4,2074.6"/></g>
<text x="1536.4" y="2091.6" font-family='"Liberation Sans", sans-serif' font-size="56" font-weight="normal" text-anchor="start" fill="#383838" letter-spacing="-1.8" stroke="#383838" stroke-width="1.6" stroke-linejoin="round">FeNiAl</text>
<g filter="url(#b2)">
<text x="172.2" y="3114.6" font-family='"Liberation Sans", sans-serif' font-size="71" font-weight="normal" text-anchor="middle" fill="#000" letter-spacing="0.4" stroke="#000" stroke-width="2.0" stroke-linejoin="round">20</text>
</g>
<g filter="url(#b2)">
<text x="382.2" y="3114.6" font-family='"Liberation Sans", sans-serif' font-size="71" font-weight="normal" text-anchor="middle" fill="#000" letter-spacing="0.4" stroke="#000" stroke-width="2.0" stroke-linejoin="round">30</text>
</g>
<g filter="url(#b2)">
<text x="592.2" y="3114.6" font-family='"Liberation Sans", sans-serif' font-size="71" font-weight="normal" text-anchor="middle" fill="#000" letter-spacing="0.4" stroke="#000" stroke-width="2.0" stroke-linejoin="round">40</text>
</g>
<g filter="url(#b2)">
<text x="802.2" y="3114.6" font-family='"Liberation Sans", sans-serif' font-size="71" font-weight="normal" text-anchor="middle" fill="#000" letter-spacing="0.4" stroke="#000" stroke-width="2.0" stroke-linejoin="round">50</text>
</g>
<g filter="url(#b2)">
<text x="1012.2" y="3114.6" font-family='"Liberation Sans", sans-serif' font-size="71" font-weight="normal" text-anchor="middle" fill="#000" letter-spacing="0.4" stroke="#000" stroke-width="2.0" stroke-linejoin="round">60</text>
</g>
<g filter="url(#b2)">
<text x="1222.2" y="3114.6" font-family='"Liberation Sans", sans-serif' font-size="71" font-weight="normal" text-anchor="middle" fill="#000" letter-spacing="0.4" stroke="#000" stroke-width="2.0" stroke-linejoin="round">70</text>
</g>
<g filter="url(#b2)">
<text x="1432.2" y="3114.6" font-family='"Liberation Sans", sans-serif' font-size="71" font-weight="normal" text-anchor="middle" fill="#000" letter-spacing="0.4" stroke="#000" stroke-width="2.0" stroke-linejoin="round">80</text>
</g>
<g filter="url(#b2)">
<text x="1642.2" y="3114.6" font-family='"Liberation Sans", sans-serif' font-size="71" font-weight="normal" text-anchor="middle" fill="#000" letter-spacing="0.4" stroke="#000" stroke-width="2.0" stroke-linejoin="round">90</text>
</g>
<g filter="url(#b2)">
<text x="1852.2" y="3114.6" font-family='"Liberation Sans", sans-serif' font-size="71" font-weight="normal" text-anchor="middle" fill="#000" letter-spacing="0.4" stroke="#000" stroke-width="2.0" stroke-linejoin="round">100</text>
<rect x="1794.0" y="3107.9" width="14.6" height="9.4" fill="#fff"/>
<rect x="1818.0" y="3107.9" width="13.5" height="9.4" fill="#fff"/>
</g>
<text x="1327.0" y="3210.3" font-family='"Liberation Sans", sans-serif' font-size="81.8" font-weight="bold" text-anchor="start" fill="#000" filter="url(#b2)" stroke="#000" stroke-width="1.2" stroke-linejoin="round">2 theta (deg.)</text>
<text transform="translate(97.8,2542.2) rotate(-90) scale(1,1.055)" font-family='"Liberation Sans", sans-serif' font-size="81.2" font-weight="bold" fill="#000" stroke="#000" stroke-width="1.2" stroke-linejoin="round" filter="url(#b2)">Intensity (arb. units)</text>
</g>
<g><text transform="translate(869.7,3366.6) scale(0.82,0.953)" font-family='"Liberation Serif", serif' font-size="90" font-weight="normal" text-anchor="middle" fill="#000">(</text><text transform="translate(907.8,3366.6) scale(1.01,1.02)" font-family='"Liberation Serif", serif' font-size="90" font-weight="bold" text-anchor="middle" fill="#000">b</text><text transform="translate(947.4,3366.6) scale(0.82,0.953)" font-family='"Liberation Serif", serif' font-size="90" font-weight="normal" text-anchor="middle" fill="#000">)</text></g>
</svg></body></html>
